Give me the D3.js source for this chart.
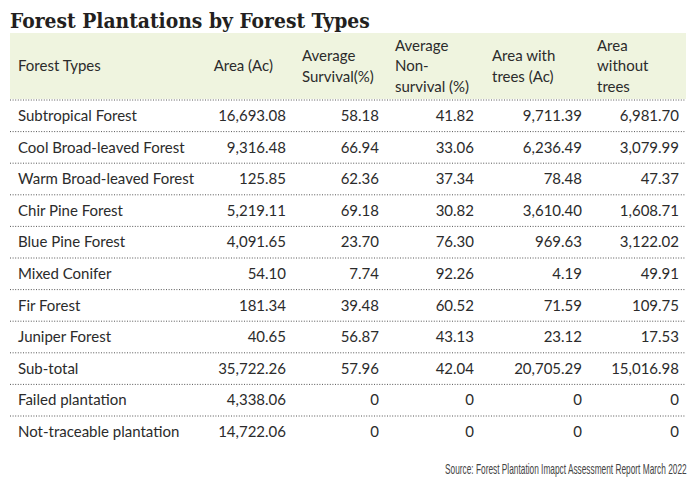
<!DOCTYPE html>
<html>
<head>
<meta charset="utf-8">
<script src="https://cdn.jsdelivr.net/npm/d3@7"></script>
<style>
  body { margin: 0; background: #fff; }
  svg { display: block; }
</style>
</head>
<body>
<div id="chart"></div>
<script>
// table values
let forestTypes = ["Subtropical Forest", "Cool Broad-leaved Forest", "Warm Broad-leaved Forest",
    "Chir Pine Forest", "Blue Pine Forest", "Mixed Conifer", "Fir Forest", "Juniper Forest",
    "Sub-total", "Failed plantation", "Not-traceable plantation"];
let areaAc = [16693.08, 9316.48, 125.85, 5219.11, 4091.65, 54.10, 181.34, 40.65, 35722.26, 4338.06, 14722.06];
let survival = [58.18, 66.94, 62.36, 69.18, 23.70, 7.74, 39.48, 56.87, 57.96, 0, 0];
let nonSurvival = [41.82, 33.06, 37.34, 30.82, 76.30, 92.26, 60.52, 43.13, 42.04, 0, 0];
let withTrees = [9711.39, 6236.49, 78.48, 3610.40, 969.63, 4.19, 71.59, 23.12, 20705.29, 0, 0];
let withoutTrees = [6981.70, 3079.99, 47.37, 1608.71, 3122.02, 49.91, 109.75, 17.53, 15016.98, 0, 0];

let headers = [
    ["Forest Types"],
    ["Area (Ac)"],
    ["Average", "Survival(%)"],
    ["Average", "Non-", "survival (%)"],
    ["Area with", "trees (Ac)"],
    ["Area", "without", "trees"]
];

let width = 700, height = 494;
let svg = d3.select("#chart").append("svg")
    .attr("width", width)
    .attr("height", height);

let bodyFont = "Lato, 'Open Sans', sans-serif";
let fmt = d3.format(",.2f");
let cell = v => v === 0 ? "0" : fmt(v);

// title
let title = svg.append("text")
    .attr("x", 10)
    .attr("y", 28)
    .style("font-family", "'DejaVu Serif Condensed', 'DejaVu Serif', serif")
    .style("font-stretch", "condensed")
    .style("font-weight", "bold")
    .style("font-size", "20px")
    .style("fill", "#231f20")
    .text("Forest Plantations by Forest Types");
// squeeze to the reference width
let tw = title.node().getComputedTextLength();
title.style("font-size", (20 * 360 / tw) + "px");

// header band
let band = { x0: 10, x1: 686, y0: 33, y1: 99 };
svg.append("rect")
    .attr("x", band.x0)
    .attr("y", band.y0)
    .attr("width", band.x1 - band.x0)
    .attr("height", band.y1 - band.y0)
    .attr("fill", "#eff4df");

let y = d3.scaleBand()
    .domain(forestTypes)
    .range([100, 100 + 31.6 * forestTypes.length]);

// columns: first is the label, rest right-aligned numbers
let colRight = [null, 286, 379, 474, 582, 679];
let headX = [18, 273, 302, 395, 492, 597];
let headAnchor = ["start", "end", "start", "start", "start", "start"];
let columns = [forestTypes, areaAc, survival, nonSurvival, withTrees, withoutTrees];

let lineH = 20.5;
let bandMid = (band.y0 + band.y1) / 2;

let gHead = svg.append("g")
    .style("font-family", bodyFont)
    .style("font-size", "15px")
    .style("fill", "#2b2b2b");

headers.forEach((lines, i) => {
    let t = gHead.append("text")
        .attr("text-anchor", headAnchor[i]);
    lines.forEach((ln, j) => {
        t.append("tspan")
            .attr("x", headX[i])
            .attr("y", bandMid + (j - (lines.length - 1) / 2) * lineH)
            .attr("dy", "0.35em")
            .text(ln);
    });
});

// dotted separators
let seps = [100].concat(forestTypes.slice(0, -1).map(d => y(d) + y.bandwidth()));
svg.append("g").selectAll("line")
    .data(seps)
    .enter().append("line")
    .attr("x1", band.x0)
    .attr("x2", band.x1)
    .attr("y1", d => d)
    .attr("y2", d => d)
    .attr("stroke", "#555")
    .attr("stroke-width", 1)
    .attr("stroke-dasharray", "1,1.6");

let gBody = svg.append("g")
    .style("font-family", bodyFont)
    .style("font-size", "15px")
    .style("fill", "#2b2b2b");

columns.forEach((col, i) => {
    gBody.append("g").selectAll("text")
        .data(col)
        .enter().append("text")
        .attr("x", i === 0 ? 18 : colRight[i])
        .attr("y", (d, k) => y(forestTypes[k]) + y.bandwidth() / 2)
        .attr("dy", "0.35em")
        .attr("text-anchor", i === 0 ? "start" : "end")
        .text(d => i === 0 ? d : cell(d));
});

// source note, squeezed horizontally like the condensed original
let src = svg.append("text")
    .attr("dy", "0.35em")
    .style("font-family", "'Liberation Sans Narrow', 'Liberation Sans', sans-serif")
    .style("font-size", "14px")
    .style("fill", "#444")
    .text("Source: Forest Plantation Imapct Assessment Report March 2022");
let sw = src.node().getComputedTextLength();
src.attr("transform", `translate(445,469) scale(${242 / sw},1)`);
</script>
</body>
</html>
